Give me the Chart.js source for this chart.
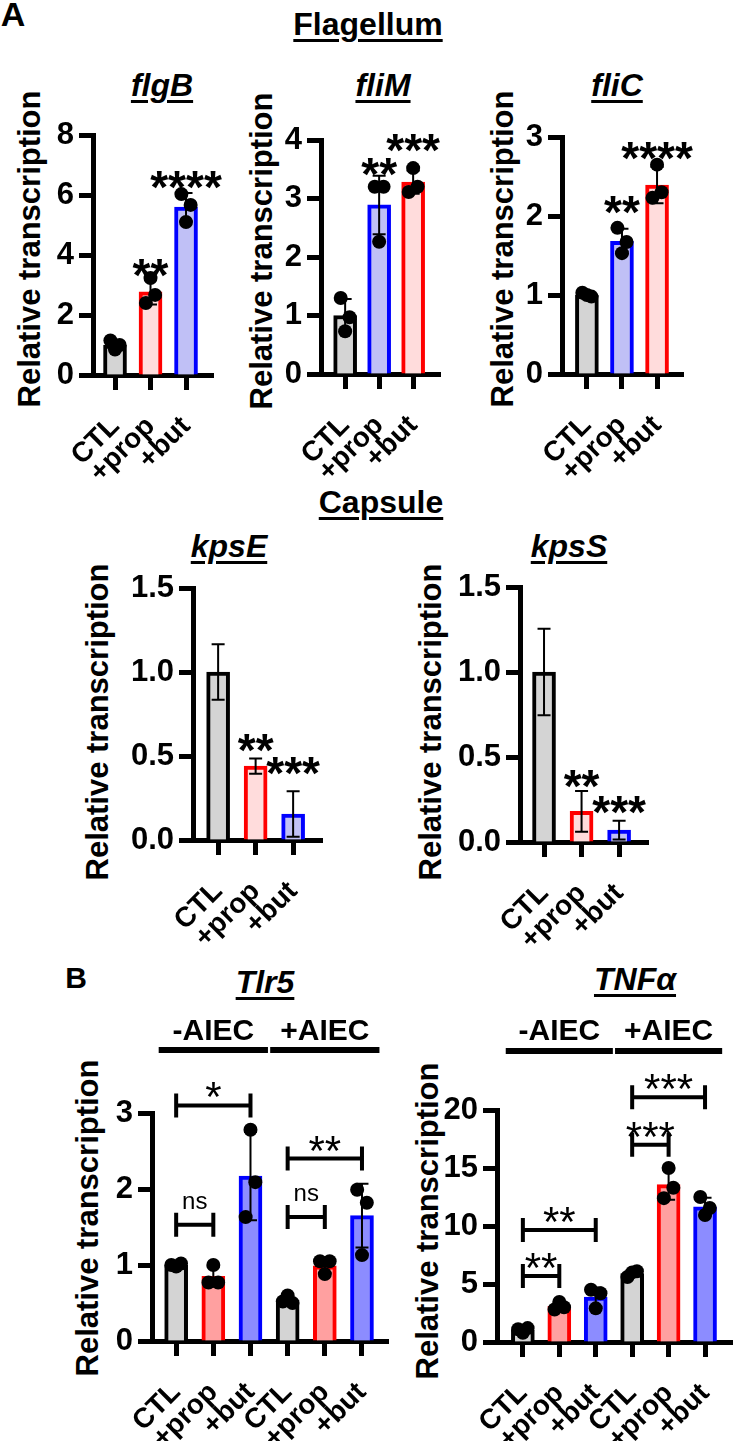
<!DOCTYPE html>
<html>
<head>
<meta charset="utf-8">
<script src="https://cdn.jsdelivr.net/npm/chart.js@4.4.0/dist/chart.umd.min.js"></script>
<style>
  html, body { margin: 0; padding: 0; background: #fff; overflow: hidden; }
  body { width: 733px; height: 1441px; position: relative; font-family: "Liberation Sans", Arial, sans-serif; }
  .txt { position: absolute; white-space: nowrap; line-height: 1; font-weight: bold; color: #000; }
  .ul { text-decoration: underline; text-decoration-thickness: 3px; text-underline-offset: 4px; }
  .it { font-style: italic; }
</style>
</head>
<body>
<script>
// ---------------------------------------------------------------
// data
// ---------------------------------------------------------------
const abxLabels = ['CTL', '+prop', '+but'];
const aiecLabels = ['CTL', '+prop', '+but', 'CTL', '+prop', '+but'];

// A - Flagellum
const flgB_means = [1.0, 2.77, 5.6];
const flgB_sd = [0.15, 0.42, 0.47];
const flgB_points = [[1.15, 1.0, 0.85], [2.4, 2.67, 3.23], [6.03, 5.67, 5.1]];
const flgB_stars = ['', '**', '****'];
const flgB_starY = [null, 3.67, 6.6];

const fliM_means = [1.0, 2.89, 3.28];
const fliM_sd = [0.28, 0.5, 0.2];
const fliM_points = [[1.3, 0.97, 0.73], [3.2, 3.2, 2.26], [3.11, 3.2, 3.52]];
const fliM_stars = ['', '**', '***'];
const fliM_starY = [null, 3.6, 4.0];

const fliC_means = [1.0, 1.68, 2.39];
const fliC_sd = [0.03, 0.16, 0.23];
const fliC_points = [[1.03, 0.98, 1.0], [1.85, 1.67, 1.53], [2.23, 2.3, 2.65]];
const fliC_stars = ['', '**', '****'];
const fliC_starY = [null, 2.18, 2.86];

// A - Capsule (no individual points shown)
const kpsE_means = [1.0, 0.44, 0.155];
const kpsE_sd = [0.165, 0.045, 0.135];
const kpsE_stars = ['', '**', '***'];
const kpsE_starY = [null, 0.595, 0.46];

const kpsS_means = [1.0, 0.18, 0.07];
const kpsS_sd = [0.255, 0.12, 0.055];
const kpsS_stars = ['', '**', '***'];
const kpsS_starY = [null, 0.39, 0.235];

// B
const tlr5_means = [1.0, 0.85, 2.17, 0.54, 0.99, 1.65];
const tlr5_sd = [0.02, 0.13, 0.58, 0.05, 0.1, 0.42];
const tlr5_points = [[1.0, 1.02, 0.98], [0.77, 0.77, 1.0], [1.63, 2.09, 2.78],
                     [0.52, 0.5, 0.6], [1.05, 1.05, 0.88], [1.99, 1.82, 1.13]];
const tlr5_brackets = [[0, 1, 1.53, 'ns'], [0, 2, 3.1, '*'], [3, 4, 1.63, 'ns'], [3, 5, 2.4, '**']];

const tnf_means = [1.03, 3.08, 3.87, 5.9, 13.57, 11.65];
const tnf_sd = [0.21, 0.33, 0.83, 0.26, 1.31, 0.78];
const tnf_points = [[1.1, 1.2, 0.8], [2.8, 3.0, 3.45], [4.5, 4.2, 2.9],
                    [5.6, 6.1, 6.0], [12.4, 13.3, 15.0], [12.5, 11.55, 10.95]];
const tnf_brackets = [[0, 1, 5.7, '**'], [0, 2, 9.65, '**'], [3, 4, 17.0, '***'], [3, 5, 21.1, '***']];

const aiecGroups = [[0, 2, '-AIEC'], [3, 5, '+AIEC']];

// colours: [fill, border]
const GRAY = ['#d4d4d4', '#000000'];
const LRED = ['#ffdcdc', '#ff0000'];
const LBLUE = ['#c0c0f6', '#0000ff'];
const RED = ['#ffa0a0', '#ff0000'];
const BLUE = ['#8c8cff', '#0000ff'];

const FONT = '"Liberation Sans", Arial, sans-serif';
const jitter = [-0.13, 0.13, 0];

// ---------------------------------------------------------------
// html text helpers
// ---------------------------------------------------------------
function label(text, cx, base, size, cls) {
  const d = document.createElement('div');
  d.className = 'txt ' + (cls || '');
  d.textContent = text;
  d.style.fontSize = size + 'px';
  d.style.top = (base - 0.8465 * size) + 'px';
  d.style.left = cx + 'px';
  d.style.transform = 'translateX(-50%)';
  document.body.appendChild(d);
}

function yTitle(cx, cy) {
  const d = document.createElement('div');
  d.className = 'txt';
  d.textContent = 'Relative transcription';
  d.style.fontSize = '31px';
  d.style.left = cx + 'px';
  d.style.top = cy + 'px';
  d.style.transform = 'translate(-50%, -50%) rotate(-90deg)';
  document.body.appendChild(d);
}

// draw text so that glyph centre sits at cy (k = glyph centre above baseline, in em)
function centred(ctx, text, x, cy, size, weight, k) {
  ctx.font = weight + ' ' + size + 'px ' + FONT;
  ctx.textAlign = 'center';
  ctx.textBaseline = 'alphabetic';
  ctx.fillStyle = '#000';
  ctx.fillText(text, x, cy + k * size);
}

// ---------------------------------------------------------------
// one Prism-like bar panel
// ---------------------------------------------------------------
function panel(o) {
  const Wy = 80, Hx = 110, padRight = 30;
  const padTop = o.padTop || 60;
  const left = o.axisX - Wy;
  const top = o.yTop - padTop;
  const W = Wy + (o.xEnd - o.axisX) + padRight;
  const H = padTop + (o.y0 - o.yTop) + Hx;

  const cv = document.createElement('canvas');
  cv.width = W; cv.height = H;
  cv.style.cssText = `position:absolute;left:${left}px;top:${top}px;width:${W}px;height:${H}px`;
  document.body.appendChild(cv);

  const scatter = [];
  (o.points || []).forEach((grp, i) => grp.forEach((v, k) => scatter.push({ x: i + jitter[k], y: v })));

  const errorBars = {
    id: 'errorBars',
    afterDatasetDraw(chart, args) {
      if (args.meta.type !== 'bar') return;
      const { ctx, scales: { x, y } } = chart;
      ctx.save();
      ctx.strokeStyle = '#000';
      ctx.lineWidth = 2;
      o.means.forEach((m, i) => {
        const px = x.getPixelForValue(i);
        const hi = y.getPixelForValue(m + o.sd[i]);
        const lo = y.getPixelForValue(Math.max(0, m - o.sd[i]));
        ctx.beginPath();
        ctx.moveTo(px, hi); ctx.lineTo(px, lo);
        ctx.moveTo(px - 6.5, hi); ctx.lineTo(px + 6.5, hi);
        ctx.moveTo(px - 6.5, lo); ctx.lineTo(px + 6.5, lo);
        ctx.stroke();
      });
      ctx.restore();
    }
  };

  const annotations = {
    id: 'annotations',
    afterDraw(chart) {
      const { ctx, scales: { x, y } } = chart;
      ctx.save();
      // asterisks above bars
      (o.stars || []).forEach((s, i) => {
        if (!s) return;
        centred(ctx, s, x.getPixelForValue(i), y.getPixelForValue(o.starY[i]), 46, 'bold', 0.57);
      });
      // comparison brackets
      ctx.strokeStyle = '#000';
      ctx.lineWidth = 4;
      (o.brackets || []).forEach(([a, b, v, t]) => {
        const xa = x.getPixelForValue(a), xb = x.getPixelForValue(b), py = y.getPixelForValue(v);
        ctx.beginPath();
        ctx.moveTo(xa, py); ctx.lineTo(xb, py);
        ctx.moveTo(xa, py - 12); ctx.lineTo(xa, py + 12);
        ctx.moveTo(xb, py - 12); ctx.lineTo(xb, py + 12);
        ctx.stroke();
        if (t === 'ns') centred(ctx, t, (xa + xb) / 2, py - 22, 24, 'normal', 0.26);
        else centred(ctx, t, (xa + xb) / 2, py - 18, 42, 'normal', 0.57);
      });
      // -AIEC / +AIEC group headers
      ctx.lineWidth = 6;
      (o.groups || []).forEach(([a, b, t]) => {
        const xa = x.getPixelForValue(a - 0.47), xb = x.getPixelForValue(b + 0.47);
        const ly = o.groupLineY - top;
        ctx.beginPath();
        ctx.moveTo(xa, ly); ctx.lineTo(xb, ly);
        ctx.stroke();
        ctx.font = 'bold 30px ' + FONT;
        ctx.textAlign = 'center';
        ctx.textBaseline = 'alphabetic';
        ctx.fillText(t, (xa + xb) / 2, o.groupTextBase - top);
      });
      ctx.restore();
    }
  };

  new Chart(cv.getContext('2d'), {
    type: 'bar',
    data: {
      datasets: [
        {
          type: 'bar',
          order: 2,
          data: o.means.map((m, i) => ({ x: i, y: m })),
          backgroundColor: o.colors.map(c => c[0]),
          borderColor: o.colors.map(c => c[1]),
          borderWidth: 4,
          borderSkipped: 'start',
          barThickness: 23
        },
        {
          type: 'scatter',
          order: 1,
          data: scatter,
          pointRadius: 7,
          pointBackgroundColor: '#000',
          pointBorderWidth: 0
        }
      ]
    },
    options: {
      responsive: false,
      animation: false,
      devicePixelRatio: 1,
      layout: { padding: { top: padTop, right: padRight, left: 0, bottom: 0 } },
      plugins: { legend: { display: false }, tooltip: { enabled: false } },
      scales: {
        x: {
          type: 'linear',
          min: o.xMin,
          max: o.xMax,
          offset: false,
          grid: { drawOnChartArea: false, drawTicks: true, tickLength: 15, tickWidth: 5, tickColor: '#000', offset: false },
          border: { display: true, color: '#000', width: 5 },
          afterBuildTicks: s => { s.ticks = o.labels.map((_, i) => ({ value: i })); },
          afterFit: s => { s.height = Hx; s.paddingLeft = 0; s.paddingRight = 0; },
          ticks: {
            autoSkip: false,
            minRotation: 45,
            maxRotation: 45,
            padding: 20,
            color: '#000',
            font: { family: FONT, size: 28, weight: 'bold' },
            callback: v => o.labels[Math.round(v)]
          }
        },
        y: {
          min: 0,
          max: o.yMax,
          grid: { drawOnChartArea: false, drawTicks: true, tickLength: 14, tickWidth: 5, tickColor: '#000' },
          border: { display: true, color: '#000', width: 5 },
          afterFit: s => { s.width = Wy; s.paddingTop = 0; s.paddingBottom = 0; },
          ticks: {
            stepSize: o.step,
            padding: 5,
            color: '#000',
            font: { family: FONT, size: 31, weight: 'bold' },
            callback: v => o.dec ? v.toFixed(1) : v
          }
        }
      }
    },
    plugins: [errorBars, annotations]
  });
}

// ---------------------------------------------------------------
// headings
// ---------------------------------------------------------------
label('A', 13, 26, 34);
label('Flagellum', 368, 35, 32, 'ul');
label('flgB', 162, 96, 32, 'ul it');
label('fliM', 383, 96, 32, 'ul it');
label('fliC', 617, 96, 32, 'ul it');
label('Capsule', 381, 513, 32, 'ul');
label('kpsE', 229, 557, 32, 'ul it');
label('kpsS', 569, 557, 32, 'ul it');
label('B', 76, 988, 30);
label('Tlr5', 265, 993, 32, 'ul it');
label('TNFα', 635, 990, 32, 'ul it');

yTitle(29, 249);
yTitle(261, 251);
yTitle(502, 249);
yTitle(97, 722);
yTitle(430, 722);
yTitle(87, 1218);
yTitle(427, 1221);

// ---------------------------------------------------------------
// panels
// ---------------------------------------------------------------
panel({ axisX: 93, xEnd: 213, yTop: 135, y0: 375, yMax: 8, step: 2, xMin: -0.62, xMax: 2.76,
        labels: abxLabels, means: flgB_means, sd: flgB_sd, points: flgB_points,
        colors: [GRAY, LRED, LBLUE], stars: flgB_stars, starY: flgB_starY });

panel({ axisX: 321, xEnd: 440, yTop: 140, y0: 374, yMax: 4, step: 1, xMin: -0.71, xMax: 2.79,
        labels: abxLabels, means: fliM_means, sd: fliM_sd, points: fliM_points,
        colors: [GRAY, LBLUE, LRED], stars: fliM_stars, starY: fliM_starY });

panel({ axisX: 562, xEnd: 683, yTop: 137, y0: 374, yMax: 3, step: 1, xMin: -0.71, xMax: 2.74,
        labels: abxLabels, means: fliC_means, sd: fliC_sd, points: fliC_points,
        colors: [GRAY, LBLUE, LRED], stars: fliC_stars, starY: fliC_starY });

panel({ axisX: 193, xEnd: 322, yTop: 588, y0: 840, yMax: 1.5, step: 0.5, dec: true, xMin: -0.67, xMax: 2.77,
        labels: abxLabels, means: kpsE_means, sd: kpsE_sd,
        colors: [GRAY, LRED, LBLUE], stars: kpsE_stars, starY: kpsE_starY });

panel({ axisX: 520, xEnd: 648, yTop: 587, y0: 842, yMax: 1.5, step: 0.5, dec: true, xMin: -0.64, xMax: 2.77,
        labels: abxLabels, means: kpsS_means, sd: kpsS_sd,
        colors: [GRAY, LRED, LBLUE], stars: kpsS_stars, starY: kpsS_starY });

panel({ axisX: 152, xEnd: 388, yTop: 1113, y0: 1341, yMax: 3, step: 1, xMin: -0.65, xMax: 5.7, padTop: 110,
        labels: aiecLabels, means: tlr5_means, sd: tlr5_sd, points: tlr5_points,
        colors: [GRAY, RED, BLUE, GRAY, RED, BLUE], brackets: tlr5_brackets,
        groups: aiecGroups, groupLineY: 1050, groupTextBase: 1040 });

panel({ axisX: 497, xEnd: 732, yTop: 1110, y0: 1342, yMax: 20, step: 5, xMin: -0.71, xMax: 5.74, padTop: 110,
        labels: aiecLabels, means: tnf_means, sd: tnf_sd, points: tnf_points,
        colors: [GRAY, RED, BLUE, GRAY, RED, BLUE], brackets: tnf_brackets,
        groups: aiecGroups, groupLineY: 1051, groupTextBase: 1040 });
</script>
</body>
</html>
